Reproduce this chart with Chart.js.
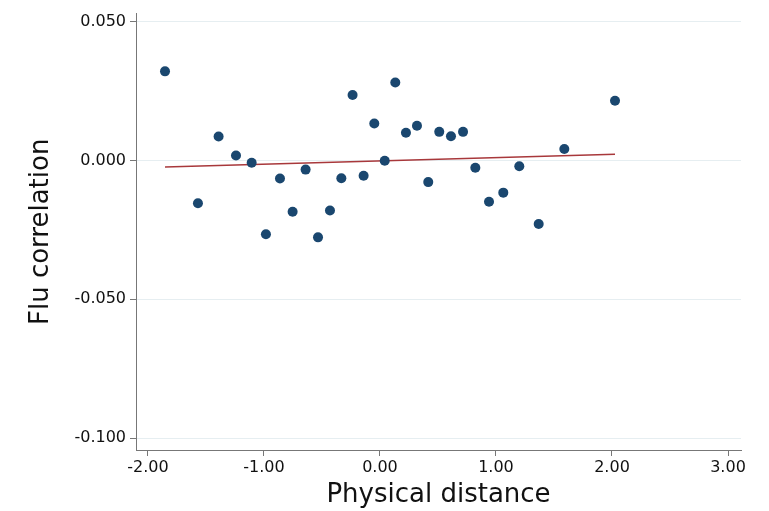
<!DOCTYPE html>
<html>
<head>
<meta charset="utf-8">
<script src="https://cdn.jsdelivr.net/npm/chart.js@4"></script>
<style>
  html, body { margin: 0; padding: 0; background: #fff; }
  #wrap { width: 769px; height: 511px; }
</style>
</head>
<body>
<div id="wrap"><canvas id="mycanvas"></canvas></div>
<script>
// physical distance (x) and flu correlation (y) of the binned points
var distX = [-1.853, -1.569, -1.391, -1.241, -1.106, -0.983, -0.862, -0.753, -0.641, -0.534,
             -0.431, -0.333, -0.236, -0.141, -0.049, 0.041, 0.132, 0.224, 0.319, 0.416,
             0.511, 0.612, 0.716, 0.822, 0.940, 1.063, 1.201, 1.368, 1.589, 2.026];
var fluY = [0.0321, -0.0154, 0.0086, 0.0018, -0.0008, -0.0266, -0.0065, -0.0185, -0.0033, -0.0277,
            -0.0180, -0.0064, 0.0236, -0.0055, 0.0133, -0.0001, 0.0281, 0.0100, 0.0125, -0.0078,
            0.0103, 0.0087, 0.0103, -0.0026, -0.0149, -0.0116, -0.0021, -0.0229, 0.0041, 0.0215];

// fitted line end points
var fitX = [-1.853, 2.026];
var fitY = [-0.0024, 0.0022];

var xTicks = [-2, -1, 0, 1, 2, 3];
var yTicks = [-0.1, -0.05, 0, 0.05];

var points = [];
for (var i in distX) {
	points.push({x: distX[i], y: fluY[i]});
}
var fitLine = [];
for (var j in fitX) {
	fitLine.push({x: fitX[j], y: fitY[j]});
}

var ctx = document.getElementById('mycanvas');

var scatterChart = new Chart(ctx, {
	type: 'scatter',
	data: {
		datasets: [
			{
				label: 'bins',
				data: points,
				backgroundColor: '#1a476f',
				borderColor: '#1a476f',
				pointRadius: 5,
				pointBorderWidth: 0
			},
			{
				label: 'fit',
				data: fitLine,
				showLine: true,
				borderColor: '#a8383b',
				borderWidth: 1.5,
				pointRadius: 0
			}
		]
	},
	options: {
		responsive: true,
		maintainAspectRatio: false,
		animation: false,
		layout: { padding: { top: 4, right: 28, left: 0, bottom: 0 } },
		plugins: {
			legend: { display: false },
			tooltip: { enabled: false }
		},
		scales: {
			x: {
				type: 'linear',
				min: -2.103,
				max: 3.112,
				afterBuildTicks: function(scale) {
					scale.ticks = xTicks.map(function(v) { return {value: v}; });
				},
				afterFit: function(scale) { scale.height = 61; },
				grid: {
					drawOnChartArea: false,
					drawTicks: true,
					tickLength: 6,
					tickColor: '#777'
				},
				border: { color: '#777', width: 1 },
				ticks: {
					padding: 2,
					color: '#111',
					font: { family: 'DejaVu Sans', size: 16 },
					maxRotation: 0,
					callback: function(v) { return Number(v).toFixed(2); }
				},
				title: {
					display: true,
					text: 'Physical distance',
					color: '#111',
					font: { family: 'DejaVu Sans', size: 26 },
					padding: { top: 0, bottom: 0 }
				}
			},
			y: {
				type: 'linear',
				min: -0.1043,
				max: 0.0529,
				afterBuildTicks: function(scale) {
					scale.ticks = yTicks.map(function(v) { return {value: v}; });
				},
				afterFit: function(scale) { scale.width = 136; },
				grid: {
					color: '#e6eef1',
					lineWidth: 1,
					drawTicks: true,
					tickLength: 6,
					tickColor: '#777'
				},
				border: { color: '#777', width: 1 },
				ticks: {
					padding: 4,
					color: '#111',
					font: { family: 'DejaVu Sans', size: 16 },
					callback: function(v) { return Number(v).toFixed(3); }
				},
				title: {
					display: true,
					text: 'Flu correlation',
					color: '#111',
					font: { family: 'DejaVu Sans', size: 26 },
					padding: { top: 26, bottom: 0 }
				}
			}
		}
	}
});
</script>
</body>
</html>
